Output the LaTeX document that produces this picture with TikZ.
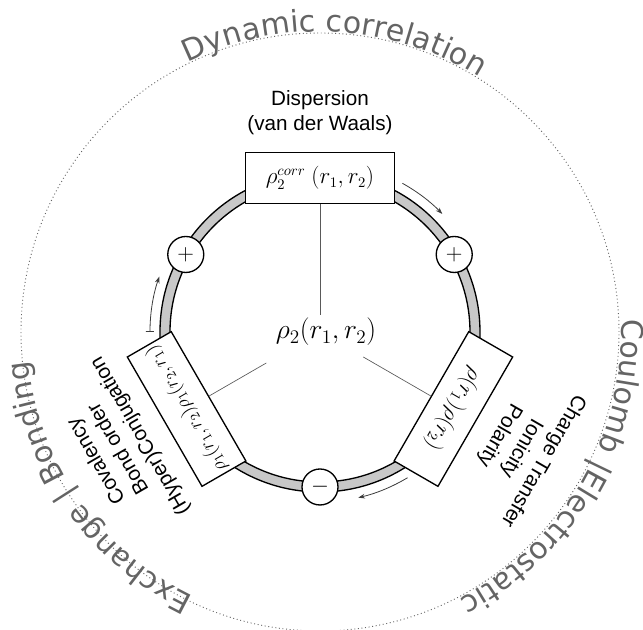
\documentclass[tikz,border=0pt]{standalone}
\usepackage[no-math]{fontspec}
\setmainfont{Liberation Sans}
\newfontfamily\outerfont{DejaVu Sans}
\usepackage{amsmath}
\usetikzlibrary{arrows.meta,decorations.text}

\definecolor{ringgray}{RGB}{200,200,200}
\definecolor{outergray}{RGB}{100,100,100}
\definecolor{arrowgray}{RGB}{60,60,60}
\newcommand\outerstyle{\outerfont\fontsize{22.5}{26}\selectfont}

\tikzset{
  termbox/.style={draw, fill=white, line width=1pt, minimum width=112pt, minimum height=38pt, inner sep=2pt, font=\fontsize{16}{18}\selectfont},
  sign/.style={circle, draw, fill=white, line width=1pt, minimum size=27pt, inner sep=0pt, font=\fontsize{18}{18}\selectfont},
  effect/.style={align=center, anchor=south, inner sep=0pt, font=\fontsize{15.5}{19}\selectfont},
  flow/.style={arrowgray, line width=0.6pt, -{Stealth[length=5pt,width=3.5pt]}},
  link/.style={black!65, line width=0.5pt},
  around/.style={decorate, decoration={text along path, text align=center, text color=outergray, raise=1pt, text format delimiters={[}{]}}},
}

\begin{document}
\begin{tikzpicture}[x=0.75pt, y=0.75pt]
\useasboundingbox (-320,-298) rectangle (323,332);

% dotted outer circle with the three regimes
\draw[outergray, dotted, line width=0.7pt] (0,0) circle (299);
\path[around, decoration={text={[\outerstyle]Dynamic correlation}}] (167:299) arc[start angle=167, end angle=7, radius=299];
\path[around, decoration={text={[\outerstyle]Coulomb |Electrostatic}}] (50:300) arc[start angle=50, end angle=-110, radius=300];
\path[around, decoration={text={[\outerstyle]Exchange | Bonding}}] (295:292) arc[start angle=295, end angle=135, radius=292];

% ring
\fill[ringgray, even odd rule] (0,0) circle (160) (0,0) circle (150);
\draw[line width=1pt] (0,0) circle (160) (0,0) circle (150);

\node[font=\fontsize{20}{22}\selectfont] (rho) at (6,0) {$\rho_2(r_1,r_2)$};

% top: dispersion
\begin{scope}
\coordinate (endcorr) at (0,17);
\node[termbox] (corr) at (90:154) {$\rho_2^{corr}\ (r_1,r_2)$};
\draw[link] (corr) -- (endcorr);
\node[effect] (disp) at (0,197) {Dispersion\\(van der Waals)};
\draw[flow] (61:170) arc[start angle=61, end angle=44, radius=170];
\end{scope}

% right: charge transfer
\begin{scope}[rotate=-120, transform shape]
\coordinate (endcoul) at (0,50);
\node[termbox] (coul) at (90:154) {$\rho(r_1)\rho(r_2)$};
\draw[link] (coul) -- (endcoul);
\node[effect] (charge) at (0,197) {Charge Transfer\\Ionicity\\Polarity};
\draw[flow] (61:170) arc[start angle=61, end angle=43, radius=170];
\end{scope}

% left: covalency
\begin{scope}[rotate=120, transform shape]
\coordinate (endexch) at (0,62);
\node[termbox, font=\fontsize{14.5}{16}\selectfont] (exch) at (90:154) {$\rho_1(r_1,r_2)\rho_1(r_2,r_1)$};
\draw[link] (exch) -- (endexch);
\node[effect] (coval) at (0,197) {Covalency\\Bond order\\(Hyper)Conjugation};
\draw[flow, {Bar[width=6pt]}-{Stealth[length=5pt,width=3.5pt]}] (60:170) arc[start angle=60, end angle=41, radius=170];
\end{scope}

% signs on the ring
\foreach \ang/\sgn/\nm in {150/+/plusL, 30/+/plusR, 270/-/minus}
  \node[sign] (\nm) at (\ang:155) {$\sgn$};
\end{tikzpicture}
\end{document}
